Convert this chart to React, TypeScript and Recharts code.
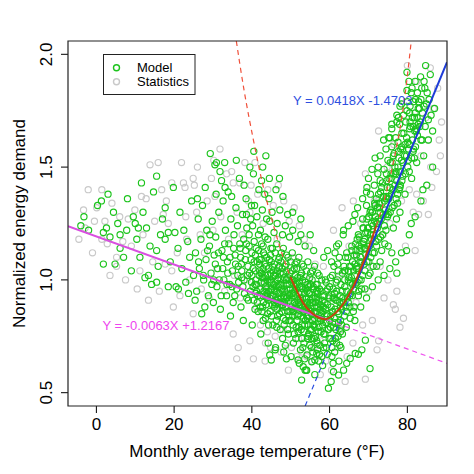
import React from 'react';
import { ComposedChart, Scatter, Line, XAxis, YAxis, ReferenceArea, Legend, Label } from 'recharts';

// ---- axes ----
const xDomain = [-7.3, 90.2];
const yDomain = [0.441, 2.059];
const xTicks = [0, 20, 40, 60, 80];
const yTicks = [0.5, 1.0, 1.5, 2.0];
const xTitle = 'Monthly average temperature (°F)';
const yTitle = 'Normalized energy demand';
const legendLabels = ['Model', 'Statistics'];
const blueEquation = 'Y = 0.0418X -1.4703';
const pinkEquation = 'Y = -0.0063X +1.2167';

// ---- fitted lines ----
const pinkSolid = [[-7.3, 1.238], [59.5, 0.822]];
const pinkDashed = [[59.5, 0.822], [90.2, 0.630]];
const blueDashed = [[53.7, 0.441], [66.5, 0.975]];
const blueSolid = [[66.5, 0.975], [90.2, 1.965]];
const redLeftDashed = [[36.0, 2.059], [38.0, 1.84], [40.4, 1.62], [42.7, 1.43], [45.2, 1.264], [47.5, 1.13], [49.9, 1.013]];
const redSolid = [[49.9, 1.013], [51.6, 0.95], [53.3, 0.895], [55.3, 0.855], [57.2, 0.832], [58.9, 0.826], [60.6, 0.84], [62.7, 0.875], [64.5, 0.92], [66.1, 0.97], [68.0, 1.05], [70.0, 1.14], [72.0, 1.24]];
const redRightDashed = [[72.0, 1.24], [74.0, 1.35], [75.6, 1.46], [77.0, 1.57], [78.1, 1.67], [79.0, 1.77], [79.9, 1.89], [80.5, 1.98], [81.0, 2.059]];

// ---- Model points (green) ----
const modelLeft = [
  [-4.0, 1.24], [-2.0, 1.22], [-3.2, 1.28], [0.3, 1.33], [1.3, 1.35], [1.8, 1.21], [1.8, 1.07], [2.6, 1.23], [3.5, 1.19], [4.4, 1.30],
  [4.8, 1.07], [5.5, 1.25], [6.1, 1.20], [6.1, 1.14], [7.0, 1.10], [7.8, 1.22], [9.0, 1.04], [9.5, 1.28], [10.0, 1.25], [10.4, 1.18],
  [10.8, 1.23], [11.2, 1.10], [11.6, 1.43], [12.0, 1.30], [12.9, 1.23], [13.4, 1.02], [13.8, 1.15], [14.2, 0.98], [14.7, 1.39], [15.5, 0.99],
  [15.5, 1.13], [15.9, 1.06], [16.5, 1.20], [17.0, 1.27], [17.7, 1.32], [17.7, 1.18], [18.5, 1.21], [19.0, 1.08], [19.8, 1.41], [20.2, 1.21],
  [20.5, 0.97], [21.0, 1.14], [21.5, 1.30], [22.0, 1.05], [22.5, 1.22], [23.0, 0.99], [23.5, 1.17], [24.0, 1.10], [24.5, 1.35], [25.0, 1.02],
  [8.0, 1.36], [3.0, 1.38], [12.5, 1.01], [18.5, 0.97], [21.1, 0.96], [23.7, 0.94], [25.4, 0.91], [27.9, 0.88], [27.1, 0.85], [15.5, 1.46],
];
const modelMid = [
  [25.5, 1.12], [25.8, 0.95], [26.2, 1.27], [26.5, 1.05], [26.9, 1.18], [27.3, 1.33], [27.6, 1.00], [28.2, 1.09], [28.4, 1.22], [28.8, 0.93],
  [29.1, 1.15], [29.3, 1.56], [29.5, 1.03], [29.8, 1.26], [30.1, 0.90], [30.3, 1.11], [30.5, 1.51], [30.7, 1.19], [31.0, 0.97], [31.2, 1.05],
  [31.5, 1.30], [31.8, 1.48], [31.9, 0.87], [32.2, 1.44], [32.3, 1.13], [32.6, 1.35], [32.8, 1.00], [33.1, 1.41], [33.2, 1.22], [33.5, 0.93],
  [33.7, 1.08], [33.9, 1.39], [34.1, 1.16], [34.3, 0.98], [34.6, 1.27], [34.8, 1.37], [35.0, 1.04], [35.2, 0.90], [35.4, 1.20], [35.7, 1.11],
  [35.9, 1.32], [36.1, 0.96], [36.3, 1.24], [36.5, 1.06], [36.8, 1.45], [37.0, 1.14], [37.2, 0.88], [37.4, 1.01], [37.6, 1.29], [37.9, 1.18],
  [38.1, 0.94], [38.3, 1.09], [38.5, 1.36], [38.7, 1.23], [38.9, 1.02], [39.1, 0.91], [39.3, 1.15], [39.5, 1.50], [39.7, 1.27], [39.9, 0.99],
  [36.0, 1.53], [38.0, 1.42], [33.0, 1.52], [34.5, 0.84], [30.8, 1.38], [28.0, 1.41], [26.0, 1.36], [37.8, 0.82], [40.5, 1.57], [39.9, 1.33],
  [38.6, 1.29], [30.9, 1.52],
  [26.3, 1.08], [27.5, 1.02], [28.6, 1.13], [29.7, 0.98], [30.6, 1.07], [31.6, 1.00], [32.7, 1.10], [33.8, 1.03], [34.9, 0.97], [35.8, 1.07],
  [29.2, 1.20], [32.1, 0.93],
  [30.2, 1.00], [31.4, 1.12], [32.5, 1.05], [33.6, 0.98], [34.4, 1.10], [35.3, 1.14], [36.6, 0.99], [37.3, 1.07], [38.6, 1.16], [39.4, 1.03],
  [35.6, 0.93], [33.0, 1.16],
];
const modelCore = [
  [40.1, 0.80], [41.6, 0.86], [40.5, 0.91], [41.2, 0.95], [40.8, 0.98], [41.9, 1.02], [40.3, 1.05], [41.4, 1.08], [40.9, 1.11], [41.1, 1.14],
  [40.6, 1.17], [41.7, 1.20], [40.2, 1.24], [41.3, 1.28], [40.7, 1.33], [41.8, 1.40], [40.4, 1.47], [41.5, 0.93], [41.0, 1.00], [40.0, 1.12],
  [42.3, 0.76], [43.5, 0.83], [42.8, 0.88], [43.9, 0.92], [42.1, 0.96], [43.2, 0.99], [42.6, 1.03], [43.7, 1.06], [42.4, 1.09], [43.0, 1.12],
  [42.9, 1.15], [43.4, 1.19], [42.2, 1.22], [43.8, 1.27], [42.7, 1.31], [43.3, 1.38], [42.5, 1.44], [43.6, 0.97], [42.0, 1.07], [43.1, 1.01], [43.9, 0.94],
  [44.2, 0.72], [45.4, 0.80], [44.7, 0.86], [45.8, 0.90], [44.0, 0.93], [45.1, 0.96], [44.5, 0.99], [45.6, 1.02], [44.3, 1.05], [45.0, 1.08],
  [44.8, 1.11], [45.3, 1.14], [44.1, 1.18], [45.7, 1.21], [44.6, 1.26], [45.2, 1.30], [44.4, 1.36], [45.9, 0.95], [44.9, 1.00], [45.5, 1.04], [44.2, 0.91], [45.8, 0.88],
  [46.1, 0.70], [47.3, 0.78], [46.6, 0.84], [47.8, 0.88], [46.3, 0.91], [47.0, 0.94], [46.8, 0.97], [47.5, 1.00], [46.2, 1.03], [47.1, 1.06],
  [46.9, 1.09], [47.6, 1.12], [46.4, 1.16], [47.9, 1.20], [46.5, 1.25], [47.2, 1.31], [46.7, 0.92], [47.4, 0.98], [46.0, 1.02], [47.7, 0.86], [46.3, 0.95],
  [48.2, 0.68], [49.4, 0.76], [48.7, 0.82], [49.8, 0.86], [48.0, 0.89], [49.1, 0.92], [48.5, 0.95], [49.6, 0.98], [48.3, 1.01], [49.0, 1.04],
  [48.8, 1.07], [49.3, 1.10], [48.1, 1.14], [49.7, 1.19], [48.6, 1.24], [49.2, 1.29], [48.4, 0.90], [49.9, 0.96], [48.9, 1.00], [49.5, 0.84], [48.2, 0.93],
  [50.1, 0.66], [51.3, 0.74], [50.6, 0.80], [51.7, 0.84], [50.3, 0.87], [51.0, 0.90], [50.8, 0.93], [51.5, 0.96], [50.2, 0.99], [51.1, 1.02],
  [50.9, 1.05], [51.6, 1.08], [50.4, 1.12], [51.9, 1.17], [50.5, 1.22], [51.2, 0.88], [50.7, 0.94], [51.4, 0.98], [50.0, 0.82], [51.8, 0.91], [50.3, 1.00],
  [52.2, 0.63], [53.4, 0.72], [52.7, 0.78], [53.8, 0.82], [52.0, 0.85], [53.1, 0.88], [52.5, 0.91], [53.6, 0.94], [52.3, 0.97], [53.0, 1.00],
  [52.8, 1.03], [53.3, 1.06], [52.1, 1.10], [53.7, 1.15], [52.6, 1.20], [53.2, 0.86], [52.4, 0.92], [53.9, 0.96], [52.9, 0.80], [53.5, 0.89], [52.2, 0.99],
  [54.1, 0.60], [55.3, 0.70], [54.6, 0.76], [55.7, 0.80], [54.3, 0.83], [55.0, 0.86], [54.8, 0.89], [55.5, 0.92], [54.2, 0.95], [55.1, 0.98],
  [54.9, 1.01], [55.6, 1.04], [54.4, 1.08], [55.9, 1.13], [54.5, 0.84], [55.2, 0.90], [54.7, 0.94], [55.4, 0.78], [54.0, 0.87], [55.8, 0.97], [54.3, 0.74],
  [56.2, 0.58], [57.4, 0.67], [56.7, 0.73], [57.8, 0.77], [56.0, 0.80], [57.1, 0.83], [56.5, 0.86], [57.6, 0.89], [56.3, 0.92], [57.0, 0.95],
  [56.8, 0.98], [57.3, 1.02], [56.1, 1.06], [57.7, 0.82], [56.6, 0.88], [57.2, 0.91], [56.4, 0.75], [57.9, 0.85], [56.9, 0.94], [57.5, 0.71], [56.2, 0.79],
  [42.8, 1.50], [44.5, 1.45], [46.2, 1.40], [48.0, 1.37], [50.5, 1.30], [52.6, 1.27], [55.0, 1.20], [43.6, 1.55], [47.1, 1.45],
];
const modelDense = [
  [36.4, 1.02], [37.1, 1.10], [37.7, 0.97], [38.4, 1.13], [39.0, 1.06], [39.6, 0.95], [36.9, 1.16], [38.0, 1.00], [39.3, 1.20], [37.4, 1.04],
  [38.7, 0.92], [39.8, 1.09],
  [40.3, 0.97], [40.9, 1.04], [41.4, 0.90], [41.9, 1.09], [42.4, 0.99], [42.9, 1.05], [43.4, 0.93], [43.8, 1.10], [40.6, 1.08], [41.2, 0.98],
  [41.7, 1.13], [42.2, 0.88], [42.7, 1.01], [43.2, 1.07], [43.7, 0.96], [40.0, 1.02], [41.0, 0.94], [42.0, 1.04], [43.0, 0.90], [44.0, 1.00],
  [40.8, 0.87], [42.5, 1.16], [43.5, 1.02],
  [44.3, 0.95], [44.8, 1.03], [45.3, 0.89], [45.8, 1.07], [46.3, 0.97], [46.8, 1.01], [47.3, 0.92], [47.8, 1.05], [44.5, 1.09], [45.0, 0.99],
  [45.5, 0.93], [46.0, 1.12], [46.5, 0.87], [47.0, 0.98], [47.5, 1.08], [48.0, 0.95], [44.1, 0.85], [45.7, 0.96], [46.6, 1.04], [47.6, 0.89],
  [44.9, 1.14], [46.2, 0.91], [47.1, 1.10],
  [48.3, 0.92], [48.8, 1.00], [49.3, 0.86], [49.8, 1.03], [50.3, 0.94], [50.8, 0.98], [51.3, 0.89], [51.8, 1.01], [48.5, 1.06], [49.0, 0.96],
  [49.5, 0.91], [50.0, 1.08], [50.5, 0.84], [51.0, 0.95], [51.5, 1.05], [52.0, 0.90], [48.1, 0.83], [49.7, 0.93], [50.6, 1.00], [51.6, 0.87],
  [48.9, 1.11], [50.2, 0.88], [51.1, 1.07],
  [52.3, 0.89], [52.8, 0.97], [53.3, 0.83], [53.8, 0.99], [54.3, 0.90], [54.8, 0.94], [55.3, 0.85], [55.8, 0.96], [52.5, 1.02], [53.0, 0.92],
  [53.5, 0.87], [54.0, 1.04], [54.5, 0.80], [55.0, 0.91], [55.5, 1.00], [56.0, 0.86], [52.1, 0.79], [53.7, 0.88], [54.6, 0.97], [55.6, 0.82],
  [52.9, 1.07], [54.2, 0.84], [55.1, 1.03],
  [56.3, 0.85], [56.8, 0.92], [57.3, 0.79], [57.8, 0.95], [58.3, 0.86], [58.8, 0.90], [59.3, 0.81], [59.8, 0.92], [56.5, 0.98], [57.0, 0.88],
  [57.5, 0.83], [58.0, 1.00], [58.5, 0.76], [59.0, 0.87], [59.5, 0.96], [60.0, 0.82], [56.1, 0.74], [57.7, 0.84], [58.6, 0.93], [59.6, 0.78],
  [56.9, 1.03], [58.2, 0.80], [59.1, 0.99],
  [46.4, 0.79], [47.9, 0.74], [49.2, 0.78], [50.7, 0.72], [51.9, 0.77], [53.1, 0.70], [54.4, 0.75], [55.7, 0.68], [56.8, 0.72], [58.0, 0.66],
  [59.2, 0.70], [60.3, 0.74], [61.3, 0.68], [62.2, 0.75], [48.6, 0.71], [52.5, 0.69], [57.2, 0.64], [60.9, 0.63],
  [60.4, 0.88], [60.9, 0.96], [61.4, 0.81], [61.9, 0.91], [62.4, 0.85], [62.9, 0.98], [60.7, 1.02], [61.6, 0.78], [62.1, 1.07], [62.6, 0.90],
  [61.2, 0.92], [62.8, 0.82],
  [42.1, 0.93], [42.6, 0.86], [43.1, 0.95], [43.6, 0.89], [44.1, 1.02], [44.6, 0.92], [45.1, 0.84], [45.6, 0.98], [46.1, 0.89], [46.6, 1.00],
  [47.1, 0.85], [47.6, 0.96], [48.1, 1.03], [48.6, 0.88], [49.1, 0.98], [49.6, 0.82], [42.3, 1.03], [43.3, 1.11], [44.3, 0.80], [45.3, 1.06],
  [46.3, 0.82], [47.3, 1.03], [48.3, 0.80], [49.3, 1.01], [42.9, 0.82], [44.9, 0.93], [46.9, 0.90], [48.9, 0.92],
  [50.1, 0.92], [50.6, 0.86], [51.1, 0.97], [51.6, 0.82], [52.1, 0.94], [52.6, 0.84], [53.1, 0.96], [53.6, 0.80], [54.1, 0.92], [54.6, 0.87],
  [55.1, 0.78], [55.6, 0.90], [56.1, 0.83], [56.6, 0.95], [57.1, 0.77], [57.6, 0.87], [50.4, 1.04], [51.4, 0.79], [52.4, 1.01], [53.4, 0.77],
  [54.4, 0.98], [55.4, 0.74], [56.4, 0.90], [57.4, 0.96], [50.9, 0.76], [52.9, 0.74], [54.9, 0.71], [56.9, 0.69], [58.1, 0.91], [58.7, 0.72],
  [59.4, 0.84], [59.9, 0.74],
  [60.2, 0.79], [60.8, 0.86], [61.3, 0.94], [61.8, 0.72], [62.3, 0.81], [62.8, 0.88], [63.3, 0.76], [63.8, 0.84], [64.3, 0.79], [64.8, 0.90],
  [65.3, 0.83], [65.8, 0.93], [66.3, 0.88], [60.6, 0.70], [61.7, 0.99], [62.9, 0.70], [64.0, 1.04], [65.5, 1.06],
];
const modelValley = [
  [58.2, 0.62], [58.5, 0.70], [58.8, 0.76], [59.0, 0.81], [59.3, 0.85], [59.5, 0.89], [59.8, 0.93], [60.0, 0.97], [60.2, 1.01], [60.4, 0.55],
  [60.6, 0.66], [60.8, 0.73], [61.0, 0.79], [61.2, 0.83], [61.4, 0.87], [61.6, 0.91], [61.8, 0.95], [62.0, 1.00], [62.2, 1.04], [62.4, 0.64],
  [62.6, 0.71], [62.8, 0.77], [58.4, 0.88], [59.1, 0.95], [59.7, 0.78], [60.3, 0.84], [60.9, 0.92], [61.5, 0.74], [62.1, 0.86], [62.7, 0.93],
  [58.9, 1.00], [61.1, 1.06], [59.4, 0.67], [58.5, 1.10], [59.5, 1.13], [60.5, 1.08], [61.8, 1.15], [62.5, 1.10],
];
const modelTail = [
  [44.6, 0.667], [46.0, 0.69], [45.0, 0.645], [48.9, 0.65], [51.9, 0.645], [53.6, 0.65], [53.2, 0.615], [56.2, 0.645], [54.0, 0.60], [52.8, 0.556],
  [59.7, 0.52], [61.0, 0.593], [62.3, 0.578], [63.6, 0.60], [64.4, 0.63], [65.3, 0.652], [66.6, 0.674], [67.4, 0.67], [70.4, 0.607], [68.3, 0.69],
  [69.2, 0.733], [53.7, 0.60], [55.4, 0.637], [56.7, 0.674], [54.2, 0.667],
];
const modelRise = [
  [63.1, 0.80], [64.3, 0.86], [63.6, 0.90], [65.4, 0.94], [63.9, 0.97], [64.8, 1.00], [63.3, 1.03], [65.1, 1.06], [64.1, 1.10], [65.7, 1.15],
  [63.5, 1.20], [64.6, 0.92], [65.9, 0.98], [63.8, 1.04], [65.2, 0.88], [64.4, 1.12], [63.2, 0.95], [65.6, 1.01],
  [66.1, 0.86], [67.4, 0.93], [66.6, 0.98], [68.5, 1.02], [66.9, 1.05], [67.8, 1.08], [66.3, 1.11], [68.1, 1.14], [67.1, 1.18], [68.7, 1.23],
  [66.5, 1.29], [67.6, 1.00], [68.9, 1.07], [66.8, 1.13], [68.2, 0.96], [67.4, 1.20], [66.2, 1.04], [68.6, 1.16],
  [69.1, 0.96], [70.4, 1.03], [69.6, 1.08], [71.5, 1.12], [69.9, 1.15], [70.8, 1.18], [69.3, 1.21], [71.1, 1.24], [70.1, 1.28], [71.7, 1.33],
  [69.5, 1.39], [70.6, 1.10], [71.9, 1.17], [69.8, 1.23], [71.2, 1.06], [70.4, 1.30], [69.2, 1.14], [71.6, 1.26],
  [72.1, 1.06], [73.4, 1.13], [72.6, 1.18], [74.5, 1.22], [72.9, 1.26], [73.8, 1.29], [72.3, 1.32], [74.1, 1.35], [73.1, 1.39], [74.7, 1.44],
  [72.5, 1.50], [73.6, 1.20], [74.9, 1.28], [72.8, 1.34], [74.2, 1.16], [73.4, 1.41], [72.2, 1.25], [74.6, 1.37],
  [75.1, 1.15], [76.4, 1.23], [75.6, 1.30], [77.5, 1.34], [75.9, 1.38], [76.8, 1.42], [75.3, 1.45], [77.1, 1.48], [76.1, 1.52], [77.7, 1.57],
  [75.5, 1.63], [76.6, 1.33], [77.9, 1.40], [75.8, 1.47], [77.2, 1.27], [76.4, 1.55], [75.2, 1.36], [77.6, 1.50],
  [78.1, 1.30], [79.4, 1.38], [78.6, 1.44], [80.5, 1.48], [78.9, 1.52], [79.8, 1.55], [78.3, 1.58], [80.1, 1.61], [79.1, 1.65], [80.7, 1.70],
  [78.5, 1.78], [79.9, 1.92], [80.4, 1.88], [78.8, 1.46], [80.2, 1.53], [79.4, 1.60], [78.2, 1.42], [80.6, 1.67],
  [81.1, 1.45], [82.4, 1.52], [81.6, 1.58], [83.5, 1.62], [81.9, 1.66], [82.8, 1.69], [81.3, 1.72], [83.1, 1.76], [82.1, 1.80], [83.7, 1.85],
  [81.5, 1.57], [82.6, 1.64], [83.9, 1.74], [81.8, 1.54], [83.2, 1.68],
  [84.2, 1.55], [85.4, 1.62], [84.6, 1.68], [86.5, 1.66], [84.9, 1.78], [85.9, 1.91], [84.3, 1.88], [86.1, 1.73], [85.1, 1.83], [87.0, 1.76], [85.4, 1.71],
  [71.7, 1.54], [70.9, 1.49], [70.0, 1.45], [69.6, 1.41], [73.0, 1.55], [73.9, 1.62], [75.2, 1.63], [76.0, 1.69], [77.3, 1.73], [78.1, 1.77],
  [79.9, 1.75], [80.7, 1.77], [82.0, 1.74], [82.9, 1.79], [82.4, 1.67], [77.3, 1.70], [76.0, 1.67], [77.7, 1.72], [79.9, 1.84], [74.5, 1.58],
  [72.4, 1.47], [68.5, 1.36], [67.2, 1.32], [66.0, 1.26], [64.8, 1.24], [63.6, 1.22], [62.3, 1.16], [61.4, 1.12], [81.2, 1.85], [83.4, 1.90],
  [84.7, 1.95], [85.6, 1.80],
  [66.5, 0.82], [68.0, 0.88], [69.5, 0.92], [71.0, 0.97], [72.5, 1.00], [74.0, 1.02], [75.5, 1.05], [77.0, 1.08], [78.5, 1.12], [79.8, 1.13],
  [77.3, 1.03], [80.5, 1.20], [82.0, 1.28], [83.5, 1.35], [85.0, 1.42], [86.5, 1.50], [73.0, 1.08], [76.0, 1.12], [70.0, 1.02], [67.5, 0.95],
  [81.0, 1.25], [84.0, 1.40],
];
const modelRiseDense = [
  [63.4, 0.92], [63.9, 1.00], [64.4, 0.95], [64.9, 1.04], [65.4, 0.99], [65.9, 1.08], [66.4, 1.02], [66.9, 1.11], [63.7, 1.06], [64.2, 0.88],
  [64.7, 1.10], [65.2, 0.93], [65.7, 1.13], [66.2, 0.96], [66.7, 1.16], [63.1, 0.87], [65.0, 1.01], [66.5, 1.07],
  [67.3, 1.05], [67.8, 1.13], [68.3, 1.08], [68.8, 1.17], [69.3, 1.11], [69.8, 1.21], [70.3, 1.15], [70.8, 1.25], [67.6, 1.19], [68.1, 1.00],
  [68.6, 1.23], [69.1, 1.04], [69.6, 1.27], [70.1, 1.08], [70.6, 1.31], [67.1, 0.99], [69.0, 1.14], [70.5, 1.20],
  [71.3, 1.20], [71.8, 1.28], [72.3, 1.23], [72.8, 1.32], [73.3, 1.27], [73.8, 1.37], [74.3, 1.31], [74.8, 1.41], [71.6, 1.34], [72.1, 1.15],
  [72.6, 1.38], [73.1, 1.19], [73.6, 1.43], [74.1, 1.24], [74.6, 1.47], [71.1, 1.12], [73.0, 1.30], [74.5, 1.36],
  [75.3, 1.37], [75.8, 1.45], [76.3, 1.40], [76.8, 1.50], [77.3, 1.44], [77.8, 1.54], [78.3, 1.48], [78.8, 1.58], [75.6, 1.52], [76.1, 1.32],
  [76.6, 1.56], [77.1, 1.36], [77.6, 1.61], [78.1, 1.41], [78.6, 1.65], [75.1, 1.29], [77.0, 1.47], [78.5, 1.53],
  [79.3, 1.55], [79.8, 1.63], [80.3, 1.58], [80.8, 1.68], [81.3, 1.62], [81.8, 1.72], [82.3, 1.66], [82.8, 1.76], [79.6, 1.70], [80.1, 1.50],
  [80.6, 1.74], [81.1, 1.54], [81.6, 1.79], [82.1, 1.59], [82.6, 1.83], [83.3, 1.70], [83.8, 1.62], [84.3, 1.77],
  [67.0, 1.06], [68.0, 1.10], [69.0, 1.18], [70.0, 1.23], [71.0, 1.30], [72.0, 1.36], [73.0, 1.44], [74.0, 1.49], [75.0, 1.53], [76.0, 1.59],
  [77.0, 1.63], [78.0, 1.69], [79.0, 1.73], [80.0, 1.79], [81.0, 1.83], [82.0, 1.88], [67.5, 1.15], [68.5, 1.27], [69.5, 1.33], [70.5, 1.38],
  [71.5, 1.42], [72.5, 1.27], [73.5, 1.34], [74.5, 1.29], [75.5, 1.41], [76.5, 1.47], [77.5, 1.38], [78.5, 1.59], [79.5, 1.47], [80.5, 1.60],
  [81.5, 1.68], [82.5, 1.72], [83.5, 1.80], [84.5, 1.85],
];

// ---- Statistics points (gray) ----
const statsLeft = [
  [-2.1, 1.40], [1.4, 1.40], [-3.3, 1.31], [0.1, 1.32], [-2.9, 1.23], [2.2, 1.26], [1.4, 1.18], [13.8, 1.51], [15.9, 1.52], [21.9, 1.52],
  [31.8, 1.58], [19.4, 1.43], [22.4, 1.43], [24.9, 1.45], [25.2, 1.42], [11.6, 1.37], [9.9, 1.31], [5.2, 1.10], [5.2, 1.06], [13.4, 0.91],
  [11.2, 1.04], [8.2, 1.27], [17.2, 1.29], [18.5, 1.25], [17.7, 1.07], [19.4, 1.04], [22.8, 1.41], [26.7, 1.20], [29.6, 1.45], [30.5, 1.37],
  [35.2, 1.43], [36.9, 1.43], [39.1, 1.35], [39.5, 1.30], [19.8, 0.88], [24.9, 0.85], [36.5, 0.70], [36.1, 0.65], [40.4, 0.65], [35.2, 0.76],
  [39.5, 0.73], [49.4, 0.60], [43.4, 0.64],
  [-4.5, 1.18], [-1.0, 1.12], [3.5, 1.02], [4.0, 1.34], [6.8, 1.17], [7.5, 1.00], [9.0, 1.15], [10.5, 0.96], [12.0, 1.20], [14.5, 1.08],
  [15.0, 1.26], [16.2, 0.95], [18.0, 1.35], [20.8, 1.12], [21.5, 0.93], [23.2, 1.18], [24.0, 1.00], [25.8, 1.30], [27.0, 0.96], [27.8, 1.12],
  [28.5, 1.35], [29.0, 0.92], [30.0, 1.22], [31.0, 1.05], [32.0, 1.28], [33.0, 0.95], [34.0, 1.18], [34.8, 1.48], [35.5, 1.02], [36.2, 1.30],
  [37.0, 0.92], [37.5, 1.20], [38.2, 1.52], [38.8, 1.00], [39.8, 1.42], [26.0, 1.50], [23.0, 1.28], [16.8, 1.40], [6.0, 1.28], [-0.5, 1.26],
  [2.8, 1.16], [12.8, 1.36], [30.2, 1.53], [33.5, 1.47],
];
const statsMid = [
  [40.8, 1.52], [41.5, 1.38], [42.2, 0.80], [42.9, 1.25], [43.5, 0.72], [44.1, 1.40], [44.8, 0.70], [45.5, 1.33], [46.0, 0.75], [46.8, 1.42],
  [47.5, 0.68], [48.2, 1.35], [48.9, 0.72], [49.6, 1.26], [50.2, 0.70], [50.9, 1.32], [51.5, 0.66], [52.2, 1.24], [52.9, 0.68], [53.5, 1.18],
  [54.1, 0.66], [54.8, 1.15], [55.5, 0.64], [56.3, 1.07], [57.6, 0.58], [57.6, 0.73], [58.4, 1.06], [41.2, 0.88], [43.0, 0.98], [45.0, 0.92],
  [47.0, 1.05], [49.0, 0.94], [51.0, 0.86], [53.0, 0.95], [55.0, 0.82], [57.0, 0.90], [44.0, 0.77], [48.0, 0.78], [52.0, 0.74], [56.0, 0.70],
  [46.5, 1.18], [50.5, 1.10], [54.5, 1.00],
];
const statsRight = [
  [73.0, 1.06], [77.3, 0.95], [76.9, 0.87], [78.1, 0.79], [72.6, 0.73], [69.2, 0.56], [64.0, 0.55], [72.2, 0.69], [79.0, 0.83], [76.4, 0.89],
  [85.9, 1.94], [82.4, 1.88], [86.7, 1.76], [85.4, 1.62], [72.6, 1.66], [63.2, 1.32], [61.0, 1.22], [66.1, 1.35], [69.2, 1.47], [82.4, 1.38],
  [84.1, 1.35], [82.9, 1.29], [82.0, 1.13], [85.4, 1.29], [86.3, 1.41], [88.5, 1.55], [88.8, 1.70], [87.8, 1.85], [88.2, 1.62], [87.5, 1.48],
  [80.5, 1.40], [81.5, 1.30], [79.5, 1.15], [75.0, 1.00], [74.0, 0.92], [71.0, 0.82], [68.5, 0.80], [66.0, 0.72], [64.5, 0.66], [62.0, 0.70],
  [60.5, 0.60], [59.0, 0.64], [70.0, 0.95], [67.0, 1.10], [75.5, 1.25], [78.5, 1.35], [80.0, 1.95], [83.5, 1.55], [86.0, 1.50], [84.8, 1.72],
  [76.5, 1.60], [74.8, 1.50], [71.5, 1.35], [68.0, 1.25], [65.0, 1.15], [62.5, 1.02], [60.2, 0.92], [63.0, 0.78], [66.8, 0.90], [70.8, 1.06],
  [73.8, 1.20], [77.8, 1.48],
];

const toPts = (arr: number[][]) => arr.map(([x, y]) => ({ x, y }));
const modelData = toPts([...modelLeft, ...modelMid, ...modelCore, ...modelDense, ...modelValley, ...modelTail, ...modelRise, ...modelRiseDense]);
const statsData = toPts([...statsLeft, ...statsMid, ...statsRight]);

const GREEN = '#1DC41D';
const GRAY = '#C9C9C9';
const FONT = '"Liberation Sans", Arial, Helvetica, sans-serif';

const ring = (color: string) => (props: any) => (
  <circle cx={props.cx} cy={props.cy} r={3.1} fill="none" stroke={color} strokeWidth={1.15} />
);

const XTick = (props: any) => (
  <text x={props.x} y={430} textAnchor="middle" fontSize={17} fontFamily={FONT} fill="#000">
    {props.payload.value}
  </text>
);
const YTick = (props: any) => (
  <text x={52.5} y={props.y} transform={`rotate(-90, 52.5, ${props.y})`} textAnchor="middle" fontSize={17} fontFamily={FONT} fill="#000">
    {Number(props.payload.value).toFixed(1)}
  </text>
);

const LegendBox = () => (
  <svg width={93} height={41} style={{ display: 'block' }}>
    <rect x={0.5} y={0.5} width={91.5} height={40} fill="#fff" stroke="#222" strokeWidth={1} />
    <circle cx={13.5} cy={13.7} r={3} fill="none" stroke={GREEN} strokeWidth={1.4} />
    <circle cx={13.5} cy={27.7} r={3} fill="none" stroke={GRAY} strokeWidth={1.4} />
    <text x={34} y={18.3} fontSize={13} fontFamily={FONT} fill="#000">{legendLabels[0]}</text>
    <text x={34} y={32.3} fontSize={13} fontFamily={FONT} fill="#000">{legendLabels[1]}</text>
  </svg>
);

const lineCommon = { dataKey: 'y', dot: false, isAnimationActive: false, legendType: 'none' as const, zIndex: 900 };

export default function App() {
  return (
    <div style={{ position: 'absolute', left: 0, top: 0, width: 474, height: 474, background: '#fff' }}>
      <ComposedChart width={474} height={474} margin={{ top: 41, right: 27, bottom: 0, left: 0 }}>
        <XAxis
          type="number"
          dataKey="x"
          domain={xDomain}
          ticks={xTicks}
          allowDataOverflow
          axisLine={false}
          tickSize={7}
          tickLine={{ stroke: '#000', strokeWidth: 1 }}
          tick={<XTick />}
          height={68}
          interval={0}
        >
          <Label
            content={() => (
              <text x={257} y={457} textAnchor="middle" fontSize={17} fontFamily={FONT} fill="#000">{xTitle}</text>
            )}
          />
        </XAxis>
        <YAxis
          type="number"
          dataKey="y"
          domain={yDomain}
          ticks={yTicks}
          allowDataOverflow
          axisLine={false}
          tickSize={7}
          tickLine={{ stroke: '#000', strokeWidth: 1 }}
          tick={<YTick />}
          width={68}
          interval={0}
        >
          <Label
            content={() => (
              <text x={24.5} y={223.5} transform="rotate(-90, 24.5, 223.5)" textAnchor="middle" fontSize={17} fontFamily={FONT} fill="#000">{yTitle}</text>
            )}
          />
        </YAxis>
        <Legend
          verticalAlign="middle"
          layout="horizontal"
          wrapperStyle={{ position: 'absolute', left: 103, top: 54, width: 93, height: 41 }}
          content={() => <LegendBox />}
        />
        <Scatter data={statsData} shape={ring(GRAY)} isAnimationActive={false} legendType="circle" name="Statistics" />
        <Scatter data={modelData} shape={ring(GREEN)} isAnimationActive={false} legendType="circle" name="Model" />
        <Line {...lineCommon} data={toPts(pinkSolid)} stroke="#D94FE0" strokeWidth={2} type="linear" />
        <Line {...lineCommon} data={toPts(pinkDashed)} stroke="#EE55EE" strokeWidth={1.2} strokeDasharray="5 4" type="linear" />
        <Line {...lineCommon} data={toPts(blueDashed)} stroke="#2A4FE0" strokeWidth={1.2} strokeDasharray="5 4" type="linear" />
        <Line {...lineCommon} data={toPts(blueSolid)} stroke="#1E3CD8" strokeWidth={2} type="linear" />
        <Line {...lineCommon} data={toPts(redLeftDashed)} stroke="#F0503A" strokeWidth={1.2} strokeDasharray="5 4" type="monotone" />
        <Line {...lineCommon} data={toPts(redRightDashed)} stroke="#F0503A" strokeWidth={1.2} strokeDasharray="5 4" type="monotone" />
        <Line {...lineCommon} data={toPts(redSolid)} stroke="#C4420E" strokeWidth={2} type="monotone" />
        <ReferenceArea x1={xDomain[0]} x2={xDomain[1]} y1={yDomain[0]} y2={yDomain[1]} fill="none" stroke="#222" strokeWidth={1.2} ifOverflow="visible" zIndex={950} />
      </ComposedChart>
      <svg width={474} height={474} style={{ position: 'absolute', left: 0, top: 0, pointerEvents: 'none' }}>
        <text x={293} y={104.5} fontSize={13} fontFamily={FONT} fill="#2E4FE0">{blueEquation}</text>
        <text x={102.5} y={329.5} fontSize={13} fontFamily={FONT} fill="#EE44EE">{pinkEquation}</text>
      </svg>
    </div>
  );
}
